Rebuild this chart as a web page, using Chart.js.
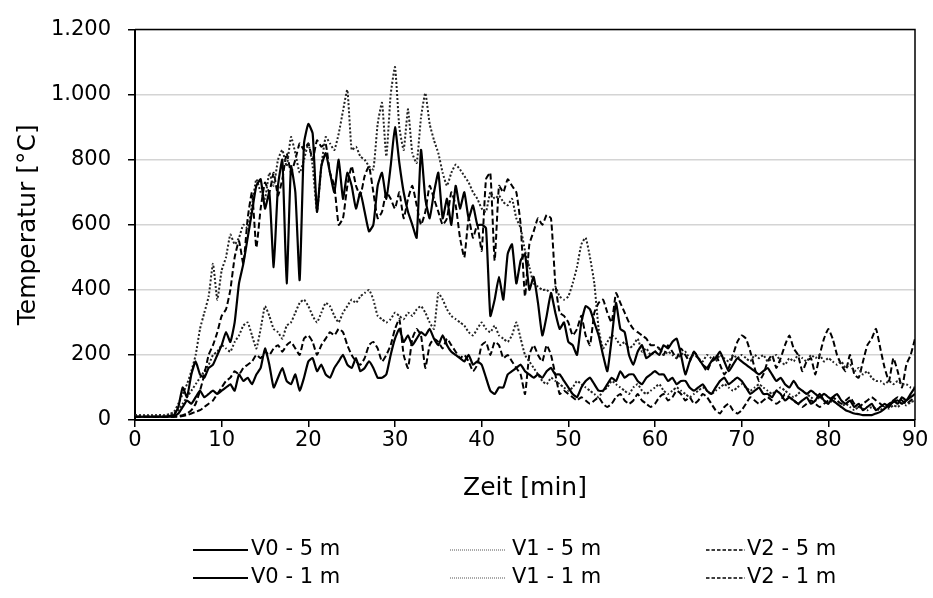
<!DOCTYPE html>
<html>
<head>
<meta charset="utf-8">
<script src="https://cdn.jsdelivr.net/npm/chart.js@4"></script>
<style>
  body { margin: 0; background: #fff; }
  #wrap { width: 933px; height: 598px; }
</style>
</head>
<body>
<div id="wrap"><canvas id="myChart" width="933" height="598"></canvas></div>
<script>
// measurement every 0.5 min, 0..90 min
const timeStep = 0.5;
const time = [];
for (let i = 0; i <= 180; i++) time.push(i * timeStep);

const seriesNames = ['V0 - 5 m', 'V1 - 5 m', 'V2 - 5 m', 'V0 - 1 m', 'V1 - 1 m', 'V2 - 1 m'];
const yTicks = [0, 200, 400, 600, 800, 1000, 1200];
const xTicks = [0, 10, 20, 30, 40, 50, 60, 70, 80, 90];

// one row = 10 minutes
const v0_5m = [
  10,10,10,10,10,10,10,10,12,15,40,100,70,140,180,140,130,160,170,200,
  230,270,240,300,420,480,560,640,720,740,650,700,470,720,800,420,780,700,430,850,
  910,880,640,780,820,760,700,800,680,760,720,650,700,640,580,600,720,760,680,780,
  900,790,700,640,600,560,830,680,620,700,760,620,680,600,720,650,700,620,660,600,
  600,590,320,370,440,370,510,540,420,490,510,400,440,360,260,320,390,330,280,300,
  240,230,200,300,350,340,300,260,200,150,250,360,280,270,200,170,210,230,190,200,
  210,200,230,220,240,250,200,140,180,210,190,170,160,180,190,210,180,150,170,190,
  180,170,160,150,140,150,160,140,120,130,110,100,120,100,90,80,90,80,70,80,
  70,60,50,40,30,25,20,18,15,15,15,20,25,35,45,55,60,50,60,70,
  80
];
const v0_1m = [
  10,10,10,10,10,10,10,10,10,12,20,40,60,50,70,90,70,80,90,80,
  90,100,110,90,140,120,130,110,140,160,220,170,100,130,160,120,110,140,90,130,
  180,190,150,170,140,130,160,180,200,170,160,190,150,160,180,160,130,130,140,200,
  250,280,240,260,230,250,270,260,280,250,230,260,230,210,200,190,180,200,170,180,
  170,130,90,80,100,100,140,150,160,170,150,140,130,140,130,150,160,140,140,120,
  100,80,70,100,120,130,110,90,90,110,130,120,150,130,140,140,120,110,130,140,
  150,140,140,120,130,110,120,120,100,90,100,110,90,80,100,120,130,110,120,130,
  120,100,80,90,100,80,80,70,90,80,60,70,60,50,60,70,50,60,80,60,
  50,70,80,60,50,60,40,50,30,40,50,30,40,50,40,60,50,70,60,80,
  100
];
const v1_5m = [
  15,15,15,15,15,15,15,15,18,25,50,80,110,150,200,280,330,380,480,370,
  460,500,570,540,560,600,590,660,740,700,680,760,720,800,830,780,870,820,760,800,
  850,780,640,780,870,850,830,880,950,1015,830,840,810,800,780,770,910,975,810,1000,
  1085,900,830,955,820,790,930,1005,910,860,820,760,720,760,785,770,750,730,700,680,
  650,640,700,680,690,670,660,680,620,590,520,470,420,410,400,400,390,410,380,370,
  380,420,470,540,560,500,420,280,220,240,260,250,230,240,220,230,250,210,220,200,
  210,220,200,210,200,190,200,210,190,200,190,180,200,190,180,200,190,180,200,190,
  200,190,180,200,190,200,180,190,200,180,170,190,180,200,190,180,200,190,200,180,
  190,180,170,180,160,170,150,160,140,150,130,120,120,110,120,110,120,110,110,100,
  100
];
const v1_1m = [
  12,12,12,12,12,12,12,12,14,20,30,50,70,90,110,130,150,170,200,210,
  230,220,210,240,260,290,300,260,220,280,350,320,280,270,250,290,300,330,360,370,
  350,320,300,330,360,350,320,300,330,350,370,360,380,390,400,370,320,310,300,310,
  330,320,310,330,320,340,350,330,300,280,390,370,340,320,310,300,290,270,260,280,
  300,280,270,290,260,250,240,260,300,250,200,180,160,140,120,110,130,120,110,100,
  90,100,120,110,100,90,80,70,90,100,120,110,100,90,80,100,110,90,80,90,
  100,110,90,80,90,100,90,80,70,80,90,100,90,80,90,100,110,100,90,100,
  110,100,90,100,110,100,90,80,90,100,90,80,70,80,90,80,70,60,70,60,
  50,60,50,40,50,40,30,40,35,30,40,35,30,40,35,45,40,50,45,55,
  60
];
const v2_5m = [
  10,10,10,10,10,10,10,10,10,10,12,15,20,30,50,90,140,200,230,270,
  320,340,400,500,550,480,620,700,530,650,730,700,760,690,740,820,760,800,850,830,
  850,800,860,840,850,760,720,600,620,720,780,720,690,750,780,700,620,640,700,680,
  650,700,620,680,720,660,600,640,720,680,640,600,620,700,660,560,500,620,560,600,
  520,740,760,490,720,700,740,720,700,600,380,540,580,620,600,630,620,420,330,320,
  300,260,280,320,260,230,330,360,370,330,300,390,360,330,300,280,270,260,250,230,
  230,220,200,230,210,190,220,200,180,210,190,170,150,180,200,170,140,160,200,240,
  260,250,210,160,120,140,180,200,160,190,230,260,220,200,150,180,190,140,200,250,
  280,250,200,170,150,200,140,130,180,230,250,280,220,160,120,190,150,100,170,200,
  250
];
const v2_1m = [
  10,10,10,10,10,10,10,10,10,10,10,12,15,20,25,30,40,50,60,80,
  100,120,130,150,140,160,170,180,200,190,210,200,220,230,210,230,240,220,200,250,
  260,240,200,230,250,270,260,280,270,230,200,180,170,190,230,240,220,180,200,230,
  280,310,200,160,250,280,260,160,230,250,240,220,250,230,210,190,200,180,150,170,
  230,240,200,240,230,190,200,180,160,140,80,200,230,200,180,230,200,140,80,90,
  80,70,60,70,60,50,60,70,50,40,50,70,80,60,50,60,80,60,50,40,
  50,70,80,60,70,90,80,60,70,50,60,80,70,50,30,20,40,50,30,20,
  30,50,70,60,50,60,70,60,50,60,80,70,60,50,40,50,60,50,40,50,
  60,70,60,50,60,70,50,40,50,60,70,60,50,40,50,60,70,60,50,60,
  70
];

const FONT = "'DejaVu Sans', 'Liberation Sans', Arial, sans-serif";
const values = [v0_5m, v1_5m, v2_5m, v0_1m, v1_1m, v2_1m];
// line look per dataset: solid / dotted / dashed
const looks = [
  { dash: [], width: 2.2, color: '#000' },
  { dash: [2, 2], width: 2, color: '#222' },
  { dash: [6, 3], width: 2, color: '#000' },
  { dash: [], width: 2.2, color: '#000' },
  { dash: [2, 2], width: 2, color: '#222' },
  { dash: [6, 3], width: 2, color: '#000' }
];

const datasets = values.map((vals, k) => ({
  label: seriesNames[k],
  data: vals.map((v, i) => ({ x: time[i], y: v })),
  borderColor: looks[k].color,
  borderWidth: looks[k].width,
  borderDash: looks[k].dash,
  pointRadius: 0,
  tension: 0.15,
  fill: false
}));

function deNumber(v) {
  if (v >= 1000) return Math.floor(v / 1000) + '.' + String(v % 1000).padStart(3, '0');
  return String(v);
}

// legend: 3 columns x 2 rows under the chart
const legendBox = {
  id: 'legendBox',
  afterDraw(chart) {
    const ctx = chart.ctx;
    const lineX = [[193, 248], [450, 506], [706, 745]];
    const textX = [251, 512, 747];
    const rowY = [550, 578];
    ctx.save();
    ctx.font = '21px ' + FONT;
    ctx.textBaseline = 'middle';
    ctx.fillStyle = '#000';
    chart.data.datasets.forEach((ds, i) => {
      const col = i % 3, row = Math.floor(i / 3);
      const y = rowY[row];
      ctx.beginPath();
      ctx.strokeStyle = '#000';
      if (col === 0) { ctx.lineWidth = 2; ctx.setLineDash([]); }
      else if (col === 1) { ctx.lineWidth = 1; ctx.setLineDash([1, 1]); ctx.strokeStyle = '#555'; }
      else { ctx.lineWidth = 1.3; ctx.setLineDash([3.5, 2]); }
      ctx.moveTo(lineX[col][0], y);
      ctx.lineTo(lineX[col][1], y);
      ctx.stroke();
      ctx.fillText(ds.label, textX[col], y);
    });
    ctx.restore();
  }
};

// frame on top and right of plot area
const frame = {
  id: 'frame',
  afterDatasetsDraw(chart) {
    const { ctx, chartArea: a } = chart;
    ctx.save();
    ctx.strokeStyle = '#000';
    ctx.lineWidth = 1.5;
    ctx.beginPath();
    ctx.moveTo(a.left, a.top);
    ctx.lineTo(a.right, a.top);
    ctx.lineTo(a.right, a.bottom);
    ctx.stroke();
    ctx.restore();
  }
};

const config = {
  type: 'line',
  data: { datasets: datasets },
  options: {
    responsive: false,
    animation: false,
    layout: { padding: { left: 0, right: 18, top: 22, bottom: 0 } },
    plugins: { legend: { display: false }, tooltip: { enabled: false } },
    scales: {
      x: {
        type: 'linear',
        min: 0, max: 90,
        afterFit(scale) { scale.height = 178; },
        afterBuildTicks(scale) { scale.ticks = xTicks.map(v => ({ value: v })); },
        grid: { drawOnChartArea: false, color: '#000', tickColor: '#000', tickLength: 7, lineWidth: 1.5 },
        border: { color: '#000', width: 2 },
        ticks: { color: '#000', font: { family: FONT, size: 21 }, padding: 1, maxRotation: 0 },
        title: { display: true, text: 'Zeit [min]', color: '#000', font: { family: FONT, size: 25 }, padding: { top: 0, bottom: 95 } }
      },
      y: {
        min: 0, max: 1200,
        afterFit(scale) { scale.width = 135; },
        afterBuildTicks(scale) { scale.ticks = yTicks.map(v => ({ value: v })); },
        grid: {
          color: ctx => ctx.tick && ctx.tick.value === 0 ? 'rgba(0,0,0,0)' : '#d4d4d4',
          tickColor: '#000', tickLength: 7, lineWidth: 1.5
        },
        border: { color: '#000', width: 2 },
        ticks: { color: '#000', font: { family: FONT, size: 21 }, padding: 17, callback: v => deNumber(v) },
        title: { display: true, text: 'Temperatur [°C]', color: '#000', font: { family: FONT, size: 25 }, padding: { top: 13, bottom: 0 } }
      }
    }
  },
  plugins: [frame, legendBox]
};

const myChart = new Chart(document.getElementById('myChart'), config);
</script>
</body>
</html>
